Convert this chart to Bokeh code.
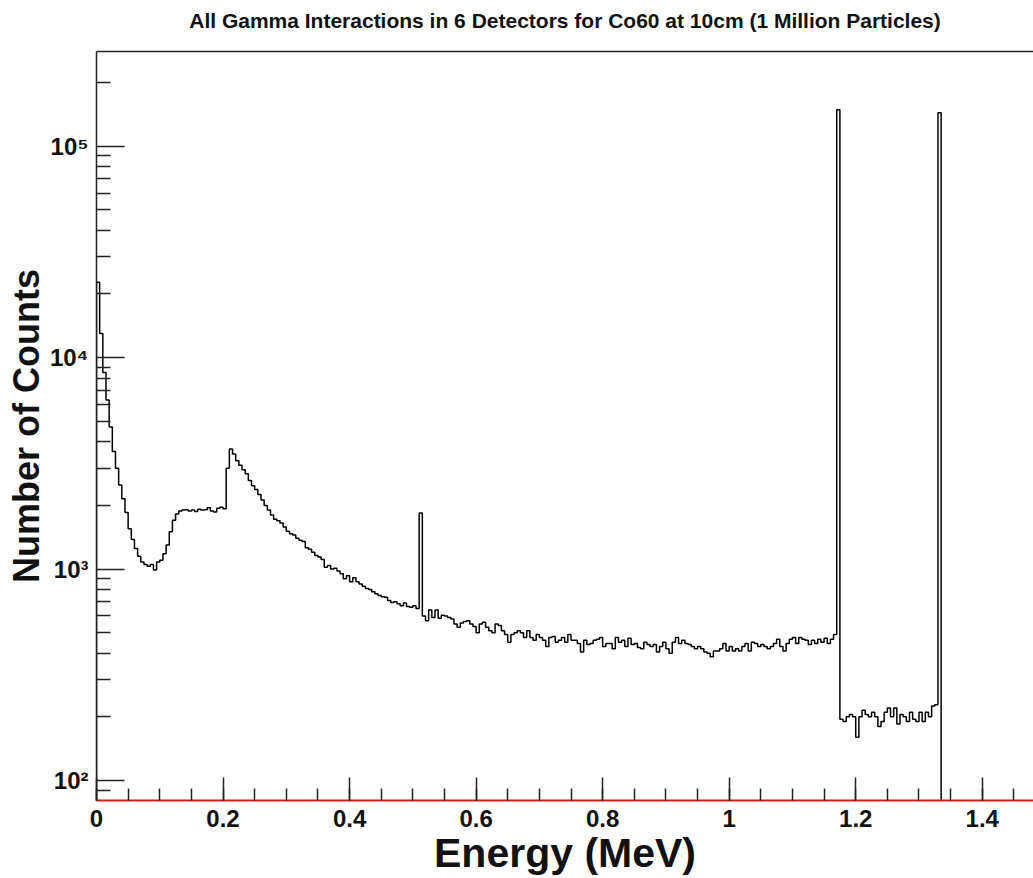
import numpy as np
from bokeh.plotting import figure
from bokeh.models import FixedTicker, CustomJSTickFormatter, LinearAxis, Range1d
from bokeh.embed import file_html
from bokeh.resources import INLINE

title_text = "All Gamma Interactions in 6 Detectors for Co60 at 10cm (1 Million Particles)"
x_label = "Energy (MeV)"
y_label = "Number of Counts"

bin_width = 0.005  # MeV, histogram 0 .. 1.5 MeV, 300 bins

counts_low = [  # bins 0..43 (0 - 0.22 MeV)
    22700, 13000, 8500, 6300, 4700, 3600, 3000, 2500, 2150, 1850,
    1550, 1380, 1250, 1150, 1080, 1050, 1030, 1050, 990, 1080,
    1100, 1180, 1300, 1500, 1700, 1820, 1880, 1900, 1910, 1880,
    1900, 1870, 1920, 1900, 1910, 1950, 1880, 1860, 1940, 1960,
    1930, 3000, 3700, 3500,
]
counts_compton = [  # bins 44..101
    3250, 3100, 2950, 2820, 2620, 2480, 2380, 2250, 2120, 2000,
    1900, 1800, 1720, 1690, 1650, 1580, 1510, 1470, 1450, 1400,
    1370, 1350, 1260, 1240, 1200, 1160, 1140, 1110, 1020, 1040,
    1000, 1010, 980, 950, 900, 930, 870, 910, 870, 850,
    830, 810, 800, 780, 765, 750, 740, 735, 710, 695,
    700, 685, 670, 690, 665, 660, 670, 650,
]
counts_annihilation = [1840]  # bin 102 (0.511 MeV)
counts_mid = [  # bins 103..171
    600, 570, 640, 590, 640, 585, 605, 600, 590, 580,
    550, 530, 555, 565, 570, 550, 535, 500, 550, 560,
    530, 510, 500, 550, 540, 510, 490, 450, 490, 500,
    510, 500, 475, 510, 475, 460, 490, 475, 460, 430,
    475, 480, 450, 460, 475, 450, 490, 460, 460, 445,
    405, 460, 440, 445, 460, 465, 475, 430, 445, 445,
    420, 475, 450, 460, 430, 470, 440, 445, 425,
]
counts_high = [  # bins 172..233
    420, 450, 440, 430, 440, 405, 430, 450, 420, 400,
    450, 475, 445, 460, 445, 440, 430, 420, 430, 420,
    405, 400, 385, 410, 410, 420, 445, 410, 430, 410,
    420, 410, 430, 445, 410, 450, 445, 430, 440, 430,
    420, 430, 445, 465, 430, 410, 445, 465, 475, 445,
    475, 465, 460, 440, 460, 445, 465, 450, 470, 445,
    465, 490,
]
counts_peak1 = [148600]  # bin 234 (1.173 MeV)
counts_between = [  # bins 235..265
    195, 190, 200, 205, 200, 160, 200, 215, 205, 200,
    210, 200, 180, 190, 210, 220, 200, 220, 185, 205,
    200, 190, 210, 195, 190, 210, 190, 210, 200, 225,
    228,
]
counts_peak2 = [143900]  # bin 266 (1.332 MeV)
counts_tail = [0] * 33  # bins 267..299

counts = (counts_low + counts_compton + counts_annihilation + counts_mid
          + counts_high + counts_peak1 + counts_between + counts_peak2 + counts_tail)

x_ticks = [0.0, 0.2, 0.4, 0.6, 0.8, 1.0, 1.2, 1.4]
x_tick_labels = ["0", "0.2", "0.4", "0.6", "0.8", "1", "1.2", "1.4"]
x_minor = [0.05 * k for k in range(0, 31)]
y_ticks = [100, 1000, 10000, 100000]
y_tick_labels = ["10\u00b2", "10\u00b3", "10\u2074", "10\u2075"]
y_minor = [90] + [m * d for d in (100, 1000, 10000) for m in range(2, 10)] + [200000]

x_start, x_end = 0.0, 1.481
y_start, y_end = 80.4, 280500

# step outline of the histogram
edges = np.arange(len(counts) + 1) * bin_width
last = max(i for i, c in enumerate(counts) if c > 0)
xs = [edges[0]]
ys = [y_start]
for i in range(last + 1):
    c = counts[i] if counts[i] > 0 else y_start
    xs += [edges[i], edges[i + 1]]
    ys += [c, c]
xs.append(edges[last + 1])
ys.append(y_start)

FONT = "Liberation Sans"

p = figure(width=1033, height=878, y_axis_type="log",
           x_range=Range1d(x_start, x_end), y_range=Range1d(y_start, y_end),
           output_backend="svg", toolbar_location=None,
           min_border_left=96, min_border_right=0, min_border_top=51, min_border_bottom=78)
p.outline_line_color = None
p.grid.visible = False
p.background_fill_color = "white"
p.border_fill_color = "white"

p.line(xs, ys, color="black", line_width=1.5)

fmt_code = """
let best = -1, bd = Infinity;
for (let i = 0; i < tvals.length; i++) {
  const d = Math.abs(tvals[i] - tick) / (Math.abs(tvals[i]) > 0 ? Math.abs(tvals[i]) : 1);
  if (d < bd) { bd = d; best = i; }
}
return bd < 1e-6 ? tlabels[best] : "";
"""

xa = p.xaxis[0]
xa.ticker = FixedTicker(ticks=x_ticks, minor_ticks=x_minor)
xa.formatter = CustomJSTickFormatter(args=dict(tvals=x_ticks, tlabels=x_tick_labels), code=fmt_code)
xa.axis_label = x_label
xa.axis_label_text_font = FONT
xa.axis_label_text_font_size = "41px"
xa.axis_label_text_font_style = "bold"
xa.axis_label_text_color = "#111111"
xa.axis_label_standoff = 0
xa.major_label_text_font = FONT
xa.major_label_text_font_size = "24px"
xa.major_label_text_font_style = "bold"
xa.major_label_text_color = "#111111"
xa.major_label_standoff = 9
xa.axis_line_color = "#cc2020"
xa.axis_line_width = 2
xa.major_tick_in = 23
xa.major_tick_out = 0
xa.minor_tick_in = 12
xa.minor_tick_out = 0
xa.major_tick_line_color = "#222222"
xa.minor_tick_line_color = "#222222"
xa.major_tick_line_width = 1.5
xa.minor_tick_line_width = 1.5

ya = p.yaxis[0]
ya.ticker = FixedTicker(ticks=y_ticks, minor_ticks=y_minor)
ya.formatter = CustomJSTickFormatter(args=dict(tvals=y_ticks, tlabels=y_tick_labels), code=fmt_code)
ya.axis_label = y_label
ya.axis_label_text_font = FONT
ya.axis_label_text_font_size = "36px"
ya.axis_label_text_font_style = "bold"
ya.axis_label_text_color = "#111111"
ya.axis_label_standoff = 0
ya.major_label_text_font = FONT
ya.major_label_text_font_size = "24px"
ya.major_label_text_font_style = "bold"
ya.major_label_text_color = "#111111"
ya.major_label_standoff = 8
ya.axis_line_color = "#222222"
ya.axis_line_width = 1.5
ya.major_tick_in = 28
ya.major_tick_out = 0
ya.minor_tick_in = 14
ya.minor_tick_out = 0
ya.major_tick_line_color = "#222222"
ya.minor_tick_line_color = "#222222"
ya.major_tick_line_width = 1.5
ya.minor_tick_line_width = 1.5

# top frame line carrying the chart title
top = LinearAxis(ticker=FixedTicker(ticks=[]), major_label_text_font_size="0px",
                 major_tick_line_color=None, minor_tick_line_color=None,
                 axis_line_color="#222222", axis_line_width=1.5,
                 major_label_standoff=0,
                 axis_label=title_text, axis_label_text_font=FONT,
                 axis_label_text_font_size="21px", axis_label_text_font_style="bold",
                 axis_label_text_color="#111111", axis_label_standoff=20)
p.add_layout(top, "above")

open("out.html", "w").write(file_html(p, INLINE))
